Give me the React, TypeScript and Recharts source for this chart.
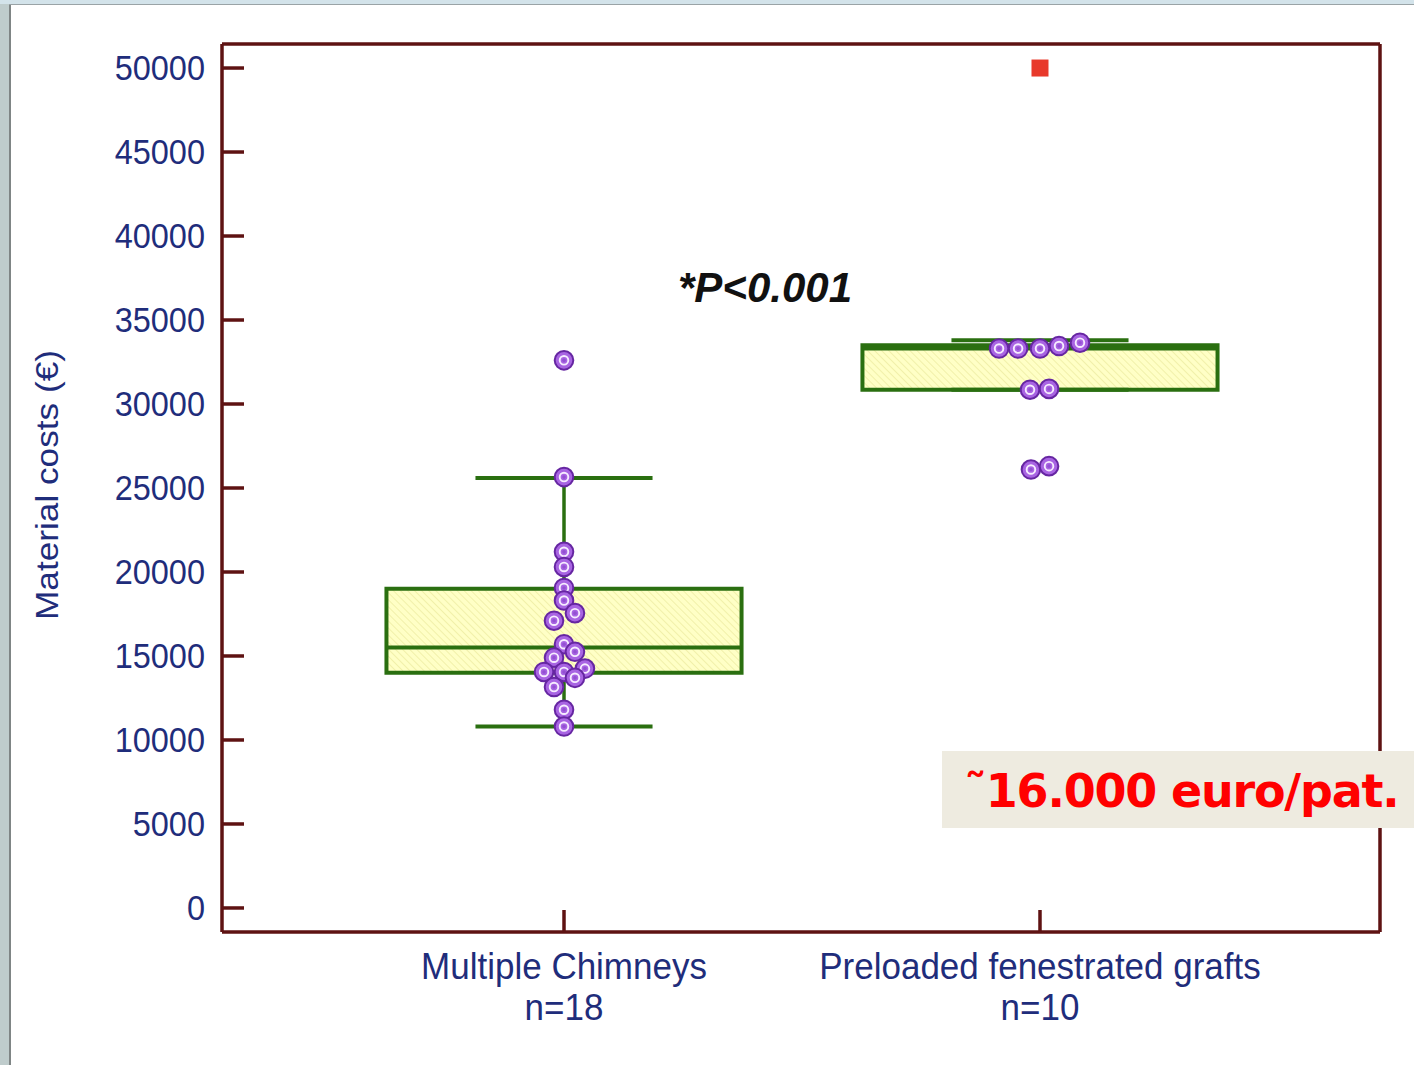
import React from "react";
import {
  ComposedChart,
  XAxis,
  YAxis,
  Scatter,
  ReferenceArea,
  ReferenceLine,
} from "recharts";

// groups on the x axis (positions 1 and 2)
const categories = ["Multiple Chimneys", "Preloaded fenestrated grafts"];
const groupSizes = ["n=18", "n=10"];
const yTicks = [0, 5000, 10000, 15000, 20000, 25000, 30000, 35000, 40000, 45000, 50000];

// box statistics per group
const q1 = [14000, 30850];
const medians = [15500, 33300];
const q3 = [19000, 33500];
const whiskerLow = [10800, 30850];
const whiskerHigh = [25600, 33800];

// individual patients (cost, horizontal jitter off the group centre)
const chimneyCosts = [32600, 25650, 21200, 20300, 19050, 18300, 17550, 17100, 15700, 15250, 14900, 14250, 14050, 14050, 13700, 13150, 11800, 10800];
const chimneyJitter = [0, 0, 0, 0, 0, 0, 0.023, -0.021, 0, 0.023, -0.021, 0.044, -0.042, 0, 0.023, -0.021, 0, 0];
const graftCosts = [33300, 33300, 33300, 33450, 33650, 30850, 30900, 26100, 26300];
const graftJitter = [-0.086, -0.046, 0, 0.04, 0.084, -0.021, 0.019, -0.019, 0.019];
const graftOutliers = [50000];

const Y_MIN = -1430;
const Y_MAX = 51430;
const X_MIN = 0.2815;
const X_MAX = 2.7143;
const BOX_HALF = 0.373;
const CAP_HALF = 0.186;

const AXIS = "#5e1212";
const NAVY = "#1f2d7b";
const GREEN = "#2a6f10";
const FONT = "'Liberation Sans', Arial, sans-serif";

const chimneyPoints = chimneyCosts.map((y, i) => ({ x: 1 + chimneyJitter[i], y }));
const graftPoints = graftCosts.map((y, i) => ({ x: 2 + graftJitter[i], y }));
const outlierPoints = graftOutliers.map((y) => ({ x: 2, y }));

function YTick(props: any) {
  const { x, y, payload } = props;
  return (
    <g>
      <line x1={x} x2={x + 22} y1={y} y2={y} stroke={AXIS} strokeWidth={3.5} />
      <text
        transform={`translate(${x - 17},${y}) scale(1,1.08)`}
        textAnchor="end"
        dominantBaseline="central"
        fill={NAVY}
        fontSize={32.5}
        fontFamily={FONT}
      >
        {payload.value}
      </text>
    </g>
  );
}

function XTick(props: any) {
  const { x, y, payload } = props;
  const i = Math.round(payload.value) - 1;
  return (
    <g>
      <line x1={x} x2={x} y1={y} y2={y - 22} stroke={AXIS} strokeWidth={3.5} />
      <text transform={`translate(${x},${y + 47}) scale(1,1.08)`} textAnchor="middle" fill={NAVY} fontSize={35} fontFamily={FONT}>
        {categories[i]}
      </text>
      <text transform={`translate(${x},${y + 88}) scale(1,1.08)`} textAnchor="middle" fill={NAVY} fontSize={35} fontFamily={FONT}>
        {groupSizes[i]}
      </text>
    </g>
  );
}

function Ring(props: any) {
  const { cx, cy } = props;
  return (
    <g>
      <circle cx={cx} cy={cy} r={9.3} fill="#a864e2" stroke="#6626a2" strokeWidth={2} />
      <circle cx={cx} cy={cy} r={4.3} fill="none" stroke="#f6ecff" strokeWidth={1.9} />
      <circle cx={cx} cy={cy} r={1.8} fill="#9350d2" />
    </g>
  );
}

function RedSquare(props: any) {
  const { cx, cy } = props;
  return <rect x={cx - 8.5} y={cy - 8.5} width={17} height={17} fill="#e8392b" />;
}

export default function App() {
  return (
    <div style={{ position: "absolute", left: 0, top: 0, width: 1414, height: 1065, background: "#fff", overflow: "hidden" }}>
      {/* slide frame bits at left / top */}
      <div style={{ position: "absolute", left: 0, top: 0, width: 9, height: 1065, background: "#bfcccc" }} />
      <div style={{ position: "absolute", left: 9, top: 0, width: 2, height: 1065, background: "#7f8585" }} />
      <div style={{ position: "absolute", left: 0, top: 0, width: 1414, height: 4, background: "#d3e3ea" }} />
      <div style={{ position: "absolute", left: 9, top: 4, width: 1405, height: 1, background: "#9aa3a6" }} />

      <ComposedChart
        width={1414}
        height={1065}
        margin={{ top: 44, right: 34, bottom: 0, left: 0 }}
        style={{ position: "absolute", left: 0, top: 0 }}
      >
        <defs>
          <pattern id="hatch" width="5" height="5" patternUnits="userSpaceOnUse" patternTransform="rotate(-45)">
            <rect width="5" height="5" fill="#ffffc6" />
            <line x1="0" y1="0" x2="0" y2="5" stroke="#ecea9e" strokeWidth="1.4" />
          </pattern>
        </defs>
        <XAxis
          type="number"
          dataKey="x"
          domain={[X_MIN, X_MAX]}
          allowDataOverflow
          ticks={[1, 2]}
          height={133}
          tickSize={0}
          tickMargin={0}
          tickLine={false}
          axisLine={{ stroke: AXIS, strokeWidth: 3.5 }}
          tick={<XTick />}
        />
        <YAxis
          type="number"
          domain={[Y_MIN, Y_MAX]}
          allowDataOverflow
          ticks={yTicks}
          width={222}
          tickSize={0}
          tickMargin={0}
          tickLine={false}
          axisLine={{ stroke: AXIS, strokeWidth: 3.5 }}
          tick={<YTick />}
        />
        <ReferenceLine y={Y_MAX} stroke={AXIS} strokeWidth={3.5} />
        <ReferenceLine x={X_MAX} stroke={AXIS} strokeWidth={3.5} />

        {q1.map((lo, i) => (
          <ReferenceArea
            key={"box" + i}
            x1={i + 1 - BOX_HALF}
            x2={i + 1 + BOX_HALF}
            y1={lo}
            y2={q3[i]}
            fill="url(#hatch)"
            fillOpacity={1}
            stroke={GREEN}
            strokeWidth={4}
          />
        ))}
        {medians.map((m, i) => (
          <ReferenceLine
            key={"med" + i}
            segment={[{ x: i + 1 - BOX_HALF, y: m }, { x: i + 1 + BOX_HALF, y: m }]}
            stroke={GREEN}
            strokeWidth={4}
          />
        ))}
        {whiskerHigh.map((hi, i) => (
          <ReferenceLine
            key={"wh" + i}
            segment={[{ x: i + 1, y: q3[i] }, { x: i + 1, y: hi }]}
            stroke={GREEN}
            strokeWidth={3.5}
          />
        ))}
        {whiskerLow.map((lo, i) => (
          <ReferenceLine
            key={"wl" + i}
            segment={[{ x: i + 1, y: q1[i] }, { x: i + 1, y: lo }]}
            stroke={GREEN}
            strokeWidth={3.5}
          />
        ))}
        {whiskerHigh.map((hi, i) => (
          <ReferenceLine
            key={"capH" + i}
            segment={[{ x: i + 1 - CAP_HALF, y: hi }, { x: i + 1 + CAP_HALF, y: hi }]}
            stroke={GREEN}
            strokeWidth={4}
          />
        ))}
        {whiskerLow.map((lo, i) => (
          <ReferenceLine
            key={"capL" + i}
            segment={[{ x: i + 1 - CAP_HALF, y: lo }, { x: i + 1 + CAP_HALF, y: lo }]}
            stroke={GREEN}
            strokeWidth={4}
          />
        ))}

        <Scatter data={chimneyPoints} dataKey="y" shape={<Ring />} isAnimationActive={false} />
        <Scatter data={graftPoints} dataKey="y" shape={<Ring />} isAnimationActive={false} />
        <Scatter data={outlierPoints} dataKey="y" shape={<RedSquare />} isAnimationActive={false} />

        <text x={678} y={302} fontFamily={FONT} fontSize={42} fontWeight="bold" fontStyle="italic" fill="#111">
          *P&lt;0.001
        </text>
      </ComposedChart>

      <div
        style={{
          position: "absolute",
          left: 47,
          top: 485,
          transform: "translate(-50%, -50%) rotate(-90deg) scaleX(1.1)",
          whiteSpace: "nowrap",
          fontFamily: FONT,
          fontSize: 32,
          color: NAVY,
        }}
      >
        Material costs (€)
      </div>

      <div style={{ position: "absolute", left: 942, top: 751, width: 472, height: 77, background: "#eeebe0" }}>
        <span
          style={{
            position: "absolute",
            left: 22,
            top: 2,
            lineHeight: "77px",
            fontFamily: "'DejaVu Sans', Verdana, sans-serif",
            fontWeight: "bold",
            fontSize: 46,
            letterSpacing: -1.2,
            color: "#ff0000",
            whiteSpace: "nowrap",
          }}
        >
          ˜16.000 euro/pat.
        </span>
      </div>
    </div>
  );
}
